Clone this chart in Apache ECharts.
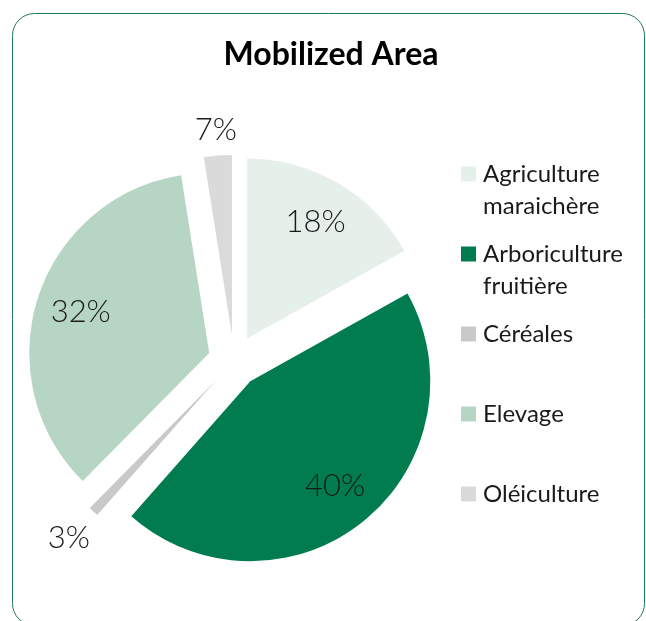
<!DOCTYPE html>
<html>
<head>
<meta charset="utf-8">
<script src="https://cdn.jsdelivr.net/npm/echarts@6/dist/echarts.min.js"></script>
<style>
  html, body { margin: 0; padding: 0; background: #fff; }
  #chart { width: 646px; height: 621px; }
</style>
</head>
<body>
<div id="chart"></div>
<script>
const categories = ['Agriculture maraichère', 'Arboriculture fruitière', 'Céréales', 'Elevage', 'Oléiculture'];
// share of the circle each slice takes, as drawn
const sliceValues = [16.9, 44.6, 0.9, 35.1, 2.5];
// percentages as printed on the chart
const sliceLabels = ['18%', '40%', '3%', '32%', '7%'];
const colors = ['#e5f0ea', '#007c4e', '#c9c9c9', '#b7d5c4', '#dadada'];

const center = [234, 361];
const R = 180;
const explode = 26;
const font = 'Lato, "Open Sans", sans-serif';

// labels are drawn by transparent ring series so they sit where the reference puts them
function ringSeries(radius, shown) {
  return {
    type: 'pie',
    center: center,
    radius: radius,
    startAngle: 90,
    selectedMode: 'multiple',
    selectedOffset: explode,
    silent: true,
    legendHoverLink: false,
    emphasis: {disabled: true},
    labelLine: {show: false},
    label: {
      position: 'inside',
      fontFamily: font,
      fontWeight: 300,
      fontSize: 31,
      color: '#1a1a1a'
    },
    data: categories.map((name, i) => ({
      name: name,
      value: sliceValues[i],
      selected: true,
      itemStyle: {color: 'rgba(0,0,0,0)'},
      label: {show: shown.indexOf(i) >= 0, formatter: sliceLabels[i]}
    }))
  };
}

// first line of each legend entry sits on the icon: pad with an empty line above
function legendText(name) {
  const parts = name.split(' ');
  return parts.length > 1 ? '\n' + parts[0] + '\n' + parts.slice(1).join(' ') : '\n' + name + '\n';
}

const chart = echarts.init(document.getElementById('chart'));
const option = {
  animation: false,
  title: {
    text: 'Mobilized Area',
    left: 326,
    top: 34,
    textAlign: 'center',
    textStyle: {fontFamily: font, fontWeight: 'bold', fontSize: 32, color: '#000'}
  },
  legend: {
    orient: 'vertical',
    left: 461,
    top: 126,
    padding: 0,
    itemWidth: 15,
    itemHeight: 15,
    itemGap: -16,
    selectedMode: false,
    icon: 'rect',
    formatter: legendText,
    textStyle: {
      fontFamily: font,
      fontSize: 24,
      color: '#1a1a1a',
      lineHeight: 32,
      padding: [0, 0, 0, 2],
      backgroundColor: 'rgba(255,255,255,0)'
    },
    data: categories
  },
  graphic: [{
    type: 'rect',
    left: 10,
    top: 11,
    silent: true,
    z: -10,
    shape: {width: 632, height: 612, r: 22},
    style: {fill: 'none', stroke: '#1e7b52', lineWidth: 1}
  }],
  series: [
    {
      type: 'pie',
      center: center,
      radius: [0, R],
      startAngle: 90,
      selectedMode: 'multiple',
      selectedOffset: explode,
      label: {show: false},
      labelLine: {show: false},
      emphasis: {disabled: true},
      data: categories.map((name, i) => ({
        name: name,
        value: sliceValues[i],
        selected: true,
        itemStyle: {color: colors[i]}
      }))
    },
    ringSeries([84, R], [0, 1, 3]),
    ringSeries([178, 228], [4]),
    ringSeries([190, 236], [2])
  ]
};
chart.setOption(option);
</script>
</body>
</html>
